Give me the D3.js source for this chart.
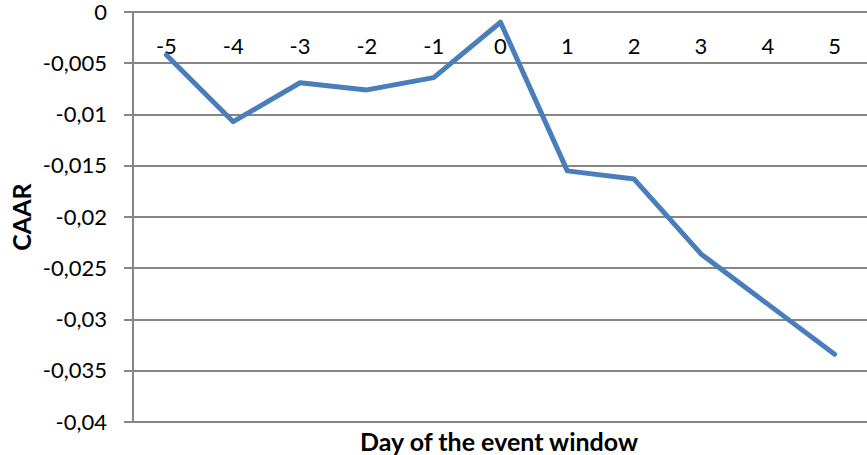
<!DOCTYPE html>
<meta charset="utf-8">
<style>
body { margin: 0; background: #fff; }
text { font-family: Lato, 'Open Sans', sans-serif; fill: #000; }
.grid line { stroke: #868686; stroke-width: 1.5px; shape-rendering: crispEdges; }
.line { fill: none; stroke: #4a7ebb; stroke-width: 5px; stroke-linejoin: round; stroke-linecap: round; }
</style>
<body>
<script src="https://d3js.org/d3.v7.min.js"></script>
<script>
// event window days and cumulative average abnormal return
var days = [-5, -4, -3, -2, -1, 0, 1, 2, 3, 4, 5];
var caar = [-0.0042, -0.0107, -0.0069, -0.0076, -0.0064, -0.0010, -0.0155, -0.0163, -0.0236, -0.0285, -0.0334];
var yTicks = [0, -0.005, -0.01, -0.015, -0.02, -0.025, -0.03, -0.035, -0.04];

var W = 867, H = 455;
var mLeft = 133, mTop = 12, plotW = 735, plotH = 410;

var svg = d3.select("body").append("svg")
    .attr("width", W)
    .attr("height", H);

var x = d3.scaleBand().domain(days).range([mLeft, mLeft + plotW]);
var y = d3.scaleLinear().domain([-0.04, 0]).range([mTop + plotH, mTop]);

var fmt = function(d) { return d === 0 ? "0" : String(d).replace(".", ","); };

// horizontal gridlines + tick marks
var g = svg.append("g").attr("class", "grid");
g.selectAll("line.h")
    .data(yTicks)
  .enter().append("line")
    .attr("class", "h")
    .attr("x1", mLeft - 9)
    .attr("x2", W)
    .attr("y1", function(d) { return Math.round(y(d)); })
    .attr("y2", function(d) { return Math.round(y(d)); });

// vertical axis line
g.append("line")
    .attr("x1", mLeft).attr("x2", mLeft)
    .attr("y1", y(0)).attr("y2", y(-0.04));

// y tick labels
svg.selectAll("text.ylab")
    .data(yTicks)
  .enter().append("text")
    .attr("class", "ylab")
    .attr("x", 107)
    .attr("y", function(d) { return y(d); })
    .attr("dy", "0.35em")
    .attr("text-anchor", "end")
    .style("font-size", "22px")
    .text(fmt);

// category labels
svg.selectAll("text.xlab")
    .data(days)
  .enter().append("text")
    .attr("class", "xlab")
    .attr("x", function(d) { return x(d) + x.bandwidth() / 2; })
    .attr("y", 46)
    .attr("dy", "0.35em")
    .attr("text-anchor", "middle")
    .style("font-size", "22px")
    .text(function(d) { return d; });

var line = d3.line()
    .x(function(d, i) { return x(days[i]) + x.bandwidth() / 2; })
    .y(function(d) { return y(d); });

svg.append("path")
    .datum(caar)
    .attr("class", "line")
    .attr("d", line);

// axis titles
svg.append("text")
    .attr("x", 499)
    .attr("y", 451)
    .attr("text-anchor", "middle")
    .style("font-size", "25px")
    .style("font-weight", "bold")
    .text("Day of the event window");

svg.append("text")
    .attr("transform", "translate(22," + (mTop + plotH / 2) + ") rotate(-90)")
    .attr("dy", "0.35em")
    .attr("text-anchor", "middle")
    .style("font-size", "25px")
    .style("font-weight", "bold")
    .text("CAAR");
</script>
</body>
